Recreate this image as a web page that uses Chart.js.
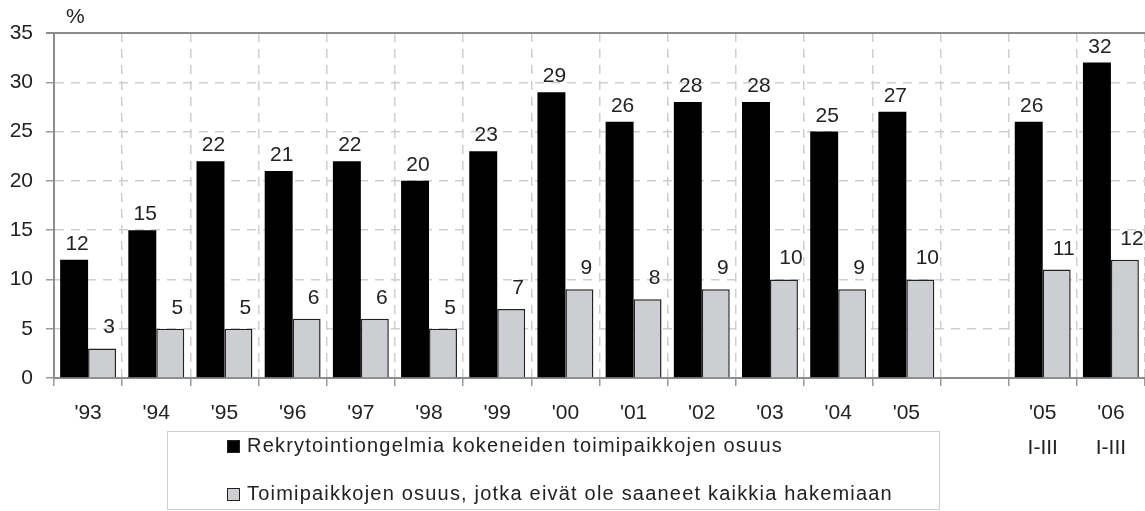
<!DOCTYPE html>
<html>
<head>
<meta charset="utf-8">
<script src="https://cdn.jsdelivr.net/npm/chart.js@4"></script>
<style>
  html, body { margin: 0; padding: 0; background: #fff; }
  canvas { display: block; }
</style>
</head>
<body>
<canvas id="canvas" width="1145" height="511"></canvas>
<script>
const categories = ["'93", "'94", "'95", "'96", "'97", "'98", "'99", "'00", "'01", "'02", "'03", "'04", "'05", "", ["'05", "I-III"], ["'06", "I-III"]];
const recruitProblems = [12, 15, 22, 21, 22, 20, 23, 29, 26, 28, 28, 25, 27, null, 26, 32];
const notAllHired = [3, 5, 5, 6, 6, 5, 7, 9, 8, 9, 10, 9, 10, null, 11, 12];
const yTicks = [0, 5, 10, 15, 20, 25, 30, 35];
const seriesNames = [
  'Rekrytointiongelmia kokeneiden toimipaikkojen osuus',
  'Toimipaikkojen osuus, jotka eivät ole saaneet kaikkia hakemiaan'
];

const FONT = 'Arial, "Liberation Sans", sans-serif';
const TXT = '#222';

// numbers above bars
const valueLabels = {
  id: 'valueLabels',
  afterDatasetsDraw(chart) {
    const ctx = chart.ctx;
    ctx.save();
    ctx.font = '21px ' + FONT;
    ctx.fillStyle = TXT;
    ctx.textAlign = 'center';
    ctx.textBaseline = 'alphabetic';
    chart.data.datasets.forEach((ds, i) => {
      const meta = chart.getDatasetMeta(i);
      meta.data.forEach((bar, j) => {
        const v = ds.data[j];
        if (v == null) return;
        const dx = i === 0 ? 3 : 7;
        const gap = i === 0 ? 10 : 15;
        ctx.fillText(String(v), bar.x + dx, bar.y - gap);
      });
    });
    ctx.restore();
  }
};

// top frame line, "%" and the boxed legend
const extras = {
  id: 'extras',
  afterDraw(chart) {
    const ctx = chart.ctx;
    const a = chart.chartArea;
    ctx.save();
    ctx.strokeStyle = '#8c8c8c';
    ctx.lineWidth = 2;
    ctx.beginPath();
    ctx.moveTo(a.left - 8, a.top);
    ctx.lineTo(a.right, a.top);
    ctx.stroke();

    ctx.fillStyle = TXT;
    ctx.font = '21px ' + FONT;
    ctx.textAlign = 'left';
    ctx.textBaseline = 'middle';
    ctx.fillText('%', 66, 17);

    // legend box
    ctx.strokeStyle = '#d0d0d0';
    ctx.lineWidth = 1;
    ctx.strokeRect(167.5, 431.5, 772, 78);
    const rows = [446.5, 494.5];
    chart.data.datasets.forEach((ds, i) => {
      ctx.fillStyle = ds.backgroundColor;
      ctx.fillRect(227, rows[i] - 6.5, 13, 13);
      ctx.strokeStyle = '#222';
      ctx.lineWidth = 1;
      ctx.strokeRect(227.5, rows[i] - 6, 12, 12);
      ctx.fillStyle = TXT;
      ctx.font = '20px ' + FONT;
      ctx.letterSpacing = '1.2px';
      ctx.fillText(ds.label, 247, rows[i]);
      ctx.letterSpacing = '0px';
    });
    ctx.restore();
  }
};

new Chart(document.getElementById('canvas'), {
  type: 'bar',
  data: {
    labels: categories,
    datasets: [
      {
        label: seriesNames[0],
        data: recruitProblems,
        backgroundColor: '#000000',
        borderColor: '#000000',
        borderWidth: 0,
        categoryPercentage: 0.82,
        barPercentage: 1.0
      },
      {
        label: seriesNames[1],
        data: notAllHired,
        backgroundColor: '#cdced2',
        borderColor: '#222222',
        borderWidth: 1.5,
        categoryPercentage: 0.82,
        barPercentage: 1.0
      }
    ]
  },
  options: {
    responsive: false,
    animation: false,
    layout: { padding: { top: 33, left: 0, right: 0, bottom: 0 } },
    plugins: {
      legend: { display: false },
      tooltip: { enabled: false }
    },
    scales: {
      x: {
        grid: {
          color: '#cfcfcf',
          lineWidth: 1.5,
          offset: true,
          tickLength: 8,
          tickColor: '#999'
        },
        border: { display: true, color: '#8c8c8c', width: 2, dash: [9, 7] },
        ticks: {
          color: TXT,
          font: { size: 21, family: FONT, lineHeight: 1.65 },
          padding: 10,
          maxRotation: 0,
          autoSkip: false
        },
        afterFit(scale) { scale.height = 511 - 378; }
      },
      y: {
        min: 0,
        max: 35,
        afterBuildTicks(scale) { scale.ticks = yTicks.map(v => ({ value: v })); },
        grid: {
          color: '#cfcfcf',
          lineWidth: 1.5,
          tickLength: 8,
          tickColor: '#999'
        },
        border: { display: true, color: '#8c8c8c', width: 2, dash: [9, 7] },
        ticks: {
          color: TXT,
          font: { size: 21, family: FONT },
          padding: 13
        },
        afterFit(scale) { scale.width = 54; }
      }
    }
  },
  plugins: [valueLabels, extras]
});
</script>
</body>
</html>
